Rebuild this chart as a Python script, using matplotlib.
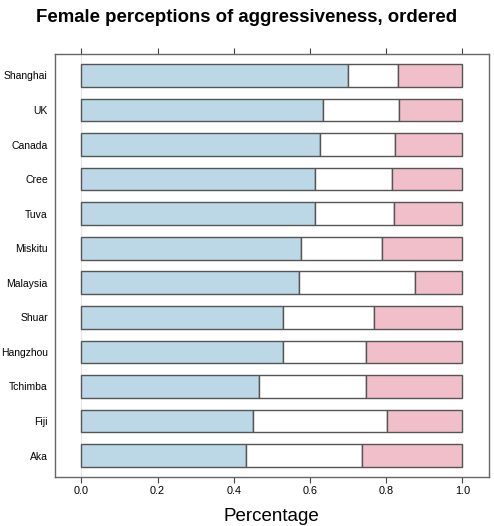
import matplotlib
matplotlib.use("Agg")
import matplotlib.pyplot as plt
import numpy as np

plt.rcParams['font.family'] = ['Liberation Sans', 'DejaVu Sans']

categories = ["Shanghai", "UK", "Canada", "Cree", "Tuva", "Miskitu", "Malaysia",
              "Shuar", "Hangzhou", "Tchimba", "Fiji", "Aka"]
blue_part = [0.701, 0.635, 0.626, 0.614, 0.613, 0.577, 0.570, 0.529, 0.528, 0.467, 0.451, 0.431]
cum_white = [0.831, 0.835, 0.823, 0.815, 0.820, 0.788, 0.877, 0.768, 0.746, 0.748, 0.801, 0.736]
xticks = [0.0, 0.2, 0.4, 0.6, 0.8, 1.0]

blue_part = np.array(blue_part)
cum_white = np.array(cum_white)
white_part = cum_white - blue_part
pink_part = 1.0 - cum_white

fig = plt.figure(figsize=(4.94, 5.26), dpi=100)
ax = fig.add_axes([54.7/494, 1-476.7/526, (489-54.7)/494, (476.7-54.3)/526])

n = len(categories)
ypos = np.arange(n, 0, -1)  # Shanghai at top
edge = '#555555'
h = 0.66
ax.barh(ypos, blue_part, height=h, left=0, color='#bcd8e6', edgecolor=edge, linewidth=1.0, zorder=3)
ax.barh(ypos, white_part, height=h, left=blue_part, color='white', edgecolor=edge, linewidth=1.0, zorder=3)
ax.barh(ypos, pink_part, height=h, left=cum_white, color='#f0bfca', edgecolor=edge, linewidth=1.0, zorder=3)
ax.axvline(0, color='#e6e6e6', lw=0.8, zorder=1)

ax.set_xlim(-0.07, 1.07)
ax.set_ylim(0.39, n + 0.61)
ax.set_yticks(ypos)
ax.set_yticklabels(categories, fontsize=7.5)
ax.tick_params(axis='y', length=0, pad=5)
ax.set_xticks(xticks)
ax.set_xticklabels([f"{t:.1f}" for t in xticks], fontsize=7.8)
ax.tick_params(axis='x', which='both', top=True, bottom=True, direction='out',
               length=4, color='#444444', width=0.8, pad=3)
for s in ax.spines.values():
    s.set_color('#666666')
    s.set_linewidth(1.0)

ax.set_xlabel("Percentage", fontsize=13.5, labelpad=8)
fig.text(0.5, 1-18/526, "Female perceptions of aggressiveness, ordered",
         ha='center', va='center', fontsize=13.4, fontweight='bold')

fig.savefig("out.png", dpi=100)
